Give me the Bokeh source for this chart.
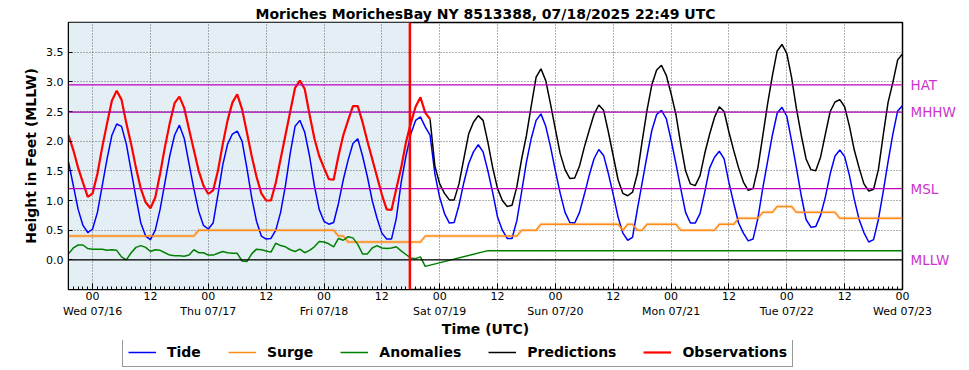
from bokeh.plotting import figure
from bokeh.layouts import column
from bokeh.models import (Range1d, FixedTicker, Span, BoxAnnotation, PrintfTickFormatter,
                          Legend, LegendItem, LinearAxis)
from bokeh.embed import file_html
from bokeh.resources import INLINE

TITLE = "Moriches MorichesBay NY 8513388, 07/18/2025 22:49 UTC"

# Time axis: hours relative to 2025-07-16 00:00 UTC
tide_hours = list(range(-5, 169))
tide = [1.65, 1.25, 0.85, 0.58, 0.46,
        0.52, 0.80, 1.25, 1.70, 2.10, 2.29, 2.25, 1.95, 1.50, 1.05, 0.62, 0.40,
        0.34, 0.50, 0.85, 1.30, 1.75, 2.10, 2.27, 2.05, 1.62, 1.20, 0.82, 0.58,
        0.52, 0.62, 1.10, 1.60, 1.95, 2.12, 2.17, 2.00, 1.55, 1.05, 0.65, 0.40,
        0.35, 0.36, 0.50, 0.80, 1.25, 1.80, 2.25, 2.35, 2.15, 1.75, 1.25, 0.85,
        0.65, 0.60, 0.63, 0.95, 1.35, 1.68, 1.96, 2.04, 1.75, 1.40, 1.00, 0.70,
        0.45, 0.35, 0.35, 0.70, 1.30, 1.75, 2.12, 2.35, 2.41, 2.24, 2.10, 1.45,
        1.05, 0.78, 0.62, 0.63, 0.92, 1.30, 1.62, 1.82, 1.94, 1.82, 1.50, 1.13,
        0.72, 0.50, 0.36, 0.36, 0.66, 1.15, 1.65, 2.05, 2.35, 2.46, 2.25, 1.90,
        1.50, 1.12, 0.80, 0.63, 0.62, 0.80, 1.10, 1.42, 1.70, 1.86, 1.76, 1.45,
        1.10, 0.72, 0.45, 0.33, 0.38, 0.85, 1.30, 1.75, 2.18, 2.45, 2.52, 2.38,
        2.02, 1.62, 1.20, 0.80, 0.62, 0.62, 0.78, 1.15, 1.55, 1.73, 1.83, 1.70,
        1.30, 0.95, 0.62, 0.45, 0.32, 0.35, 0.70, 1.20, 1.65, 2.10, 2.47, 2.57,
        2.42, 2.00, 1.55, 1.08, 0.68, 0.55, 0.56, 0.75, 1.06, 1.45, 1.75, 1.85,
        1.74, 1.42, 1.02, 0.68, 0.46, 0.30, 0.34, 0.68, 1.15, 1.65, 2.12, 2.51,
        2.60]

obs_hours = list(range(-5, 71))
observations = [2.10, 1.85, 1.55, 1.30, 1.06,
                1.12, 1.45, 1.90, 2.30, 2.68, 2.85, 2.70, 2.30, 1.95, 1.55, 1.20, 0.97,
                0.87, 1.05, 1.45, 1.90, 2.30, 2.64, 2.75, 2.56, 2.20, 1.85, 1.50, 1.25,
                1.11, 1.17, 1.50, 1.95, 2.35, 2.65, 2.79, 2.54, 2.15, 1.75, 1.40, 1.12,
                1.00, 1.00, 1.30, 1.70, 2.10, 2.50, 2.90, 3.02, 2.88, 2.45, 2.05, 1.75,
                1.55, 1.36, 1.35, 1.75, 2.10, 2.35, 2.59, 2.59, 2.32, 2.00, 1.70, 1.40,
                1.10, 0.85, 0.84, 1.20, 1.55, 1.98, 2.30, 2.58, 2.74, 2.48, 2.37]

pred_hours = list(range(70, 169))
predictions = [2.37, 1.58, 1.28, 1.12, 1.01, 1.01, 1.28, 1.70, 2.12, 2.32, 2.43,
               2.35, 1.98, 1.55, 1.20, 1.00, 0.90, 0.92, 1.23, 1.70, 2.10, 2.60,
               3.08, 3.22, 3.02, 2.62, 2.20, 1.79, 1.52, 1.37, 1.38, 1.58, 1.90,
               2.18, 2.45, 2.61, 2.52, 2.15, 1.75, 1.35, 1.12, 1.08, 1.14, 1.45,
               2.00, 2.52, 2.95, 3.20, 3.28, 3.11, 2.80, 2.45, 1.95, 1.50, 1.28,
               1.25, 1.42, 1.80, 2.12, 2.40, 2.58, 2.50, 2.15, 1.84, 1.55, 1.31,
               1.17, 1.20, 1.55, 2.08, 2.62, 3.10, 3.52, 3.63, 3.48, 3.07, 2.55,
               2.10, 1.70, 1.52, 1.50, 1.73, 2.12, 2.50, 2.66, 2.70, 2.58, 2.25,
               1.85, 1.55, 1.28, 1.16, 1.19, 1.52, 2.10, 2.65, 2.99, 3.37, 3.47]

surge_hours = [-5, 21, 22, 50, 51, 52, 53, 68, 69, 88, 89, 92, 93, 109, 110, 111,
               112, 113, 114, 115, 121, 122, 129, 130, 133, 134, 138, 139, 141,
               142, 145, 146, 154, 155, 168]
surge = [0.4, 0.4, 0.5, 0.5, 0.4, 0.4, 0.3, 0.3, 0.4, 0.4, 0.5, 0.5, 0.6, 0.6,
         0.5, 0.6, 0.6, 0.5, 0.5, 0.6, 0.6, 0.5, 0.5, 0.6, 0.6, 0.7, 0.7, 0.8,
         0.8, 0.9, 0.9, 0.8, 0.8, 0.7, 0.7]

anom_hours = list(range(-5, 70)) + [82, 168]
anomalies = [0.10, 0.20, 0.25, 0.25, 0.19,
             0.18, 0.18, 0.18, 0.16, 0.17, 0.16, 0.05, 0.00, 0.12, 0.21, 0.24, 0.21,
             0.14, 0.17, 0.16, 0.12, 0.08, 0.07, 0.07, 0.06, 0.08, 0.17, 0.12, 0.12,
             0.08, 0.08, 0.11, 0.14, 0.12, 0.11, 0.11, -0.02, -0.03, 0.10, 0.18, 0.17,
             0.15, 0.13, 0.28, 0.24, 0.22, 0.17, 0.14, 0.18, 0.12, 0.16, 0.22, 0.31,
             0.30, 0.27, 0.22, 0.36, 0.33, 0.39, 0.37, 0.26, 0.10, 0.10, 0.20, 0.24,
             0.20, 0.19, 0.20, 0.22, 0.15, 0.09, 0.03, 0.02, 0.05, -0.11,
             0.155, 0.155]

datum_names = ["HAT", "MHHW", "MSL", "MLLW"]
datum_values = [2.95, 2.49, 1.20, 0.0]
datum_line_colors = ["#bf00bf", "#a000b0", "#bf00bf", "black"]
datum_text_color = "#cc33cc"

series_names = ["Tide", "Surge", "Anomalies", "Predictions", "Observations"]
series_colors = ["#0000ff", "#ff8c1a", "#008000", "black", "#ff0000"]
series_widths = [1.5, 1.5, 1.5, 1.5, 2.2]
series_x = [tide_hours, surge_hours, anom_hours, pred_hours, obs_hours]
series_y = [tide, surge, anomalies, predictions, observations]

obs_cutoff = 65 + 49 / 60  # 07/18 17:49 UTC

tick_hours = list(range(0, 169, 12))
tick_labels = ["00\nWed 07/16", "12", "00\nThu 07/17", "12", "00\nFri 07/18", "12",
               "00\nSat 07/19", "12", "00\nSun 07/20", "12", "00\nMon 07/21", "12",
               "00\nTue 07/22", "12", "00\nWed 07/23"]
y_ticks = [0.0, 0.5, 1.0, 1.5, 2.0, 2.5, 3.0, 3.5]
x_start, x_end = -5, 168

FONT = "DejaVu Sans"
H = 340

p = figure(width=969, height=H, x_range=Range1d(x_start, x_end), y_range=Range1d(-0.5, 4.0),
           output_backend="svg", toolbar_location=None,
           min_border_left=68, min_border_right=67, min_border_top=22, min_border_bottom=51)
p.background_fill_color = "white"
p.outline_line_color = "black"
p.outline_line_width = 1.5
p.outline_line_alpha = 1.0

p.title.text = TITLE
p.title.align = "center"
p.title.vertical_align = "middle"
p.title.standoff = 0
p.title.text_font = FONT
p.title.text_font_style = "bold"
p.title.text_font_size = "14px"
p.title.text_color = "black"

shade = BoxAnnotation(right=obs_cutoff, fill_color="#e4eef5", fill_alpha=1.0,
                      line_color=None, level="image")
p.add_layout(shade)

p.xaxis.ticker = FixedTicker(ticks=tick_hours, minor_ticks=list(range(x_start, x_end + 1)))
p.xaxis.major_label_overrides = dict(zip(tick_hours, tick_labels))
p.yaxis.ticker = FixedTicker(ticks=y_ticks)
p.yaxis.formatter = PrintfTickFormatter(format="%.1f")

for ax in (p.xaxis[0], p.yaxis[0]):
    ax.major_label_text_font = FONT
    ax.major_label_text_font_size = "11px"
    ax.major_label_text_color = "black"
    ax.axis_label_text_font = FONT
    ax.axis_label_text_font_style = "bold"
    ax.axis_label_text_font_size = "14px"
    ax.axis_label_text_color = "black"
    ax.axis_line_color = "black"
    ax.major_tick_line_color = "black"
    ax.major_tick_out = 0
p.xaxis.major_tick_in = 6
p.xaxis.minor_tick_in = 3
p.xaxis.minor_tick_out = 0
p.xaxis.minor_tick_line_color = "black"
p.xaxis.major_label_standoff = 0
p.xaxis.axis_label_standoff = 0
p.xaxis.axis_label = "Time (UTC)"
p.yaxis.major_tick_in = 4
p.yaxis.minor_tick_line_color = None
p.yaxis.major_label_standoff = 5
p.yaxis.axis_label_standoff = 4
p.yaxis.axis_label = "Height in Feet (MLLW)"

# datum names on a right-hand axis beside the frame
dax = LinearAxis(ticker=FixedTicker(ticks=datum_values),
                 major_label_overrides=dict(zip(datum_values, datum_names)))
dax.axis_line_color = None
dax.major_tick_line_color = None
dax.minor_tick_line_color = None
dax.major_tick_in = 0
dax.major_tick_out = 0
dax.major_label_standoff = 8
dax.major_label_text_font = FONT
dax.major_label_text_font_size = "13.5px"
dax.major_label_text_color = datum_text_color
p.add_layout(dax, "right")

p.grid.grid_line_color = "#555555"
p.grid.grid_line_dash = "1 2"
p.grid.grid_line_width = 1
p.grid.grid_line_alpha = 0.9

for v, lc in zip(datum_values, datum_line_colors):
    p.add_layout(Span(location=v, dimension="width", line_color=lc, line_width=1.3))

p.line(surge_hours, surge, color=series_colors[1], line_width=3.5, alpha=0.2)
for xs, ys, col, lw in zip(series_x, series_y, series_colors, series_widths):
    p.line(xs, ys, color=col, line_width=lw)

p.add_layout(Span(location=obs_cutoff, dimension="height", line_color="#ff0000", line_width=2.5))

# legend strip below the plot; its key lines carry the same series but lie outside its view
lf = figure(width=969, height=370 - H, x_range=Range1d(-1000, -999), y_range=Range1d(0, 1),
            output_backend="svg", toolbar_location=None,
            x_axis_location=None, y_axis_location=None,
            min_border_left=68, min_border_right=67, min_border_top=0, min_border_bottom=0)
lf.outline_line_color = None
lf.grid.visible = False
lf.background_fill_color = "white"
items = []
for name, xs, ys, col, lw in zip(series_names, series_x, series_y, series_colors, series_widths):
    r = lf.line(xs, ys, color=col, line_width=lw)
    items.append(LegendItem(label=name, renderers=[r]))
legend = Legend(items=items, orientation="horizontal", location=(54, 3))
legend.label_text_font = FONT
legend.label_text_font_style = "bold"
legend.label_text_font_size = "14px"
legend.label_text_color = "black"
legend.glyph_width = 28
legend.glyph_height = 18
legend.label_height = 18
legend.label_standoff = 11
legend.spacing = 27
legend.padding = 5
legend.margin = 0
legend.border_line_color = "#333333"
legend.border_line_width = 1
legend.background_fill_alpha = 1.0
lf.add_layout(legend)

layout = column(p, lf, spacing=0)
open("out.html", "w").write(file_html(layout, INLINE))
